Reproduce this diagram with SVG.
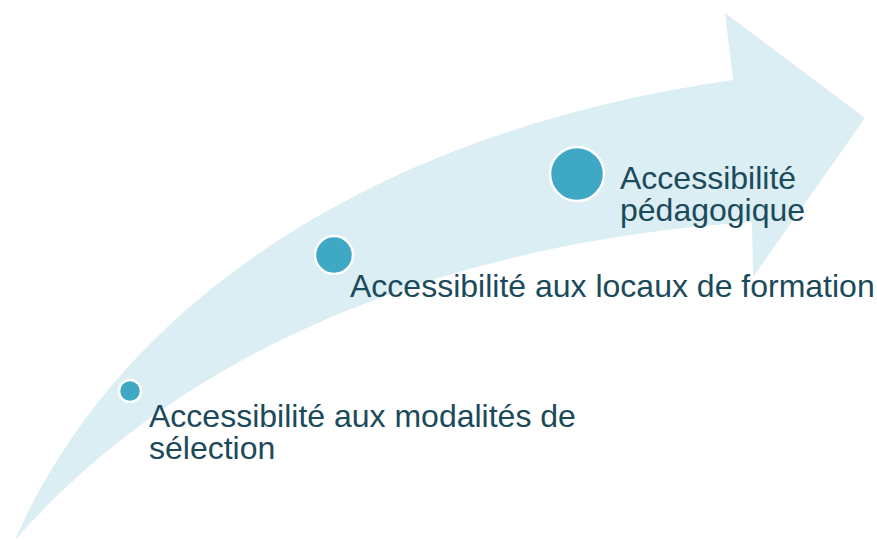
<svg xmlns="http://www.w3.org/2000/svg" width="877" height="540" viewBox="0 0 877 540">
<style>
.lbl{font-family:"Liberation Sans",Arial,sans-serif;font-size:32px;fill:#1B4A5A}
.dot{fill:#3FA9C5;stroke:#FFFFFF;stroke-width:2.5}
</style>
<rect width="877" height="540" fill="#FFFFFF"/>
<g id="arrow">
<path d="M 15 540 C 120 300, 380 130, 733 80 L 725 13 L 865 118 L 753 277 L 752 222 C 480 240, 200 330, 15 540 Z" fill="#DAEEF4"/>
</g>
<g id="connectors"></g>
<g id="node1">
<circle class="dot" cx="130" cy="391" r="11"/>
<text class="lbl" x="149" y="427"><tspan x="149" y="427">Accessibilité aux modalités de</tspan><tspan x="149" y="459">sélection</tspan></text>
</g>
<g id="node2">
<circle class="dot" cx="334" cy="255" r="19"/>
<text class="lbl" x="350" y="297">Accessibilité aux locaux de formation</text>
</g>
<g id="node3">
<circle class="dot" cx="577" cy="174" r="27"/>
<text class="lbl" x="620" y="189"><tspan x="620" y="189">Accessibilité</tspan><tspan x="620" y="221">pédagogique</tspan></text>
</g>
</svg>
